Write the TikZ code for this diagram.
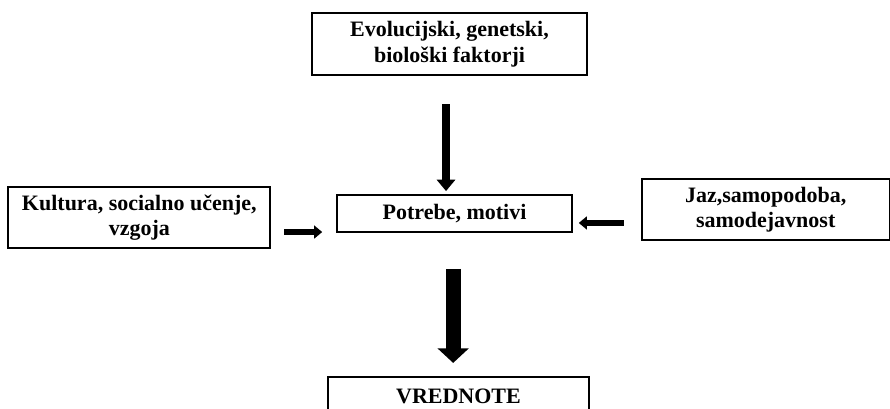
\documentclass[tikz,border=0pt]{standalone}
\usepackage{fontspec}
\setmainfont{Liberation Serif}
\usetikzlibrary{arrows.meta,positioning}

\begin{document}
\begin{tikzpicture}[
  x=0.75pt, y=-0.75pt,
  node distance=4pt,
  box/.style={draw=black, line width=1.4pt, align=center, inner sep=0pt, font=\bfseries\fontsize{16.5}{19}\selectfont},
  arrow/.style={-{Triangle[length=6pt,width=9.5pt]}, draw=black, line width=4.5pt},
  midarrow/.style={-{Triangle[length=8.5pt,width=13.5pt]}, draw=black, line width=5.5pt},
  bigarrow/.style={-{Triangle[length=11pt,width=23pt]}, draw=black, line width=11pt}
]
\clip (0,0) rectangle (890,408);
\node[box, minimum width=176pt, minimum height=27.75pt] (motivi) at (454.5,213.5) {Potrebe, motivi};
\node[box, minimum width=206pt, minimum height=46.5pt, above=88.5pt of motivi, xshift=-3.75pt] (evol) {Evolucijski, genetski,\\biološki faktorji};
\node[box, minimum width=196.5pt, minimum height=45.75pt, left=48.75pt of motivi, yshift=-3pt] (kultura) {Kultura, socialno učenje,\\vzgoja};
\node[box, minimum width=186pt, minimum height=45.75pt, right=51pt of motivi, yshift=3pt] (jaz) {Jaz,samopodoba,\\samodejavnost};
\node[box, minimum width=196pt, minimum height=30pt, below=107.25pt of motivi, xshift=3pt] (vrednote) {VREDNOTE};
% arrows do not touch the boxes
\draw[midarrow, shorten <=21pt, shorten >=2.25pt] ([xshift=-2.6pt]evol.south) -- ([xshift=-2.6pt]evol.south |- motivi.north);
\draw[arrow, shorten <=9.75pt, shorten >=10.5pt] ([yshift=-10.9pt]kultura.east) -- ([yshift=-10.9pt]kultura.east -| motivi.west);
\draw[arrow, shorten <=12.75pt, shorten >=4.5pt] ([yshift=-10.1pt]jaz.west) -- ([yshift=-10.1pt]jaz.west -| motivi.east);
\draw[bigarrow, shorten <=27pt, shorten >=9.75pt] ([xshift=-1pt]motivi.south) -- ([xshift=-1pt]motivi.south |- vrednote.north);
\end{tikzpicture}
\end{document}
